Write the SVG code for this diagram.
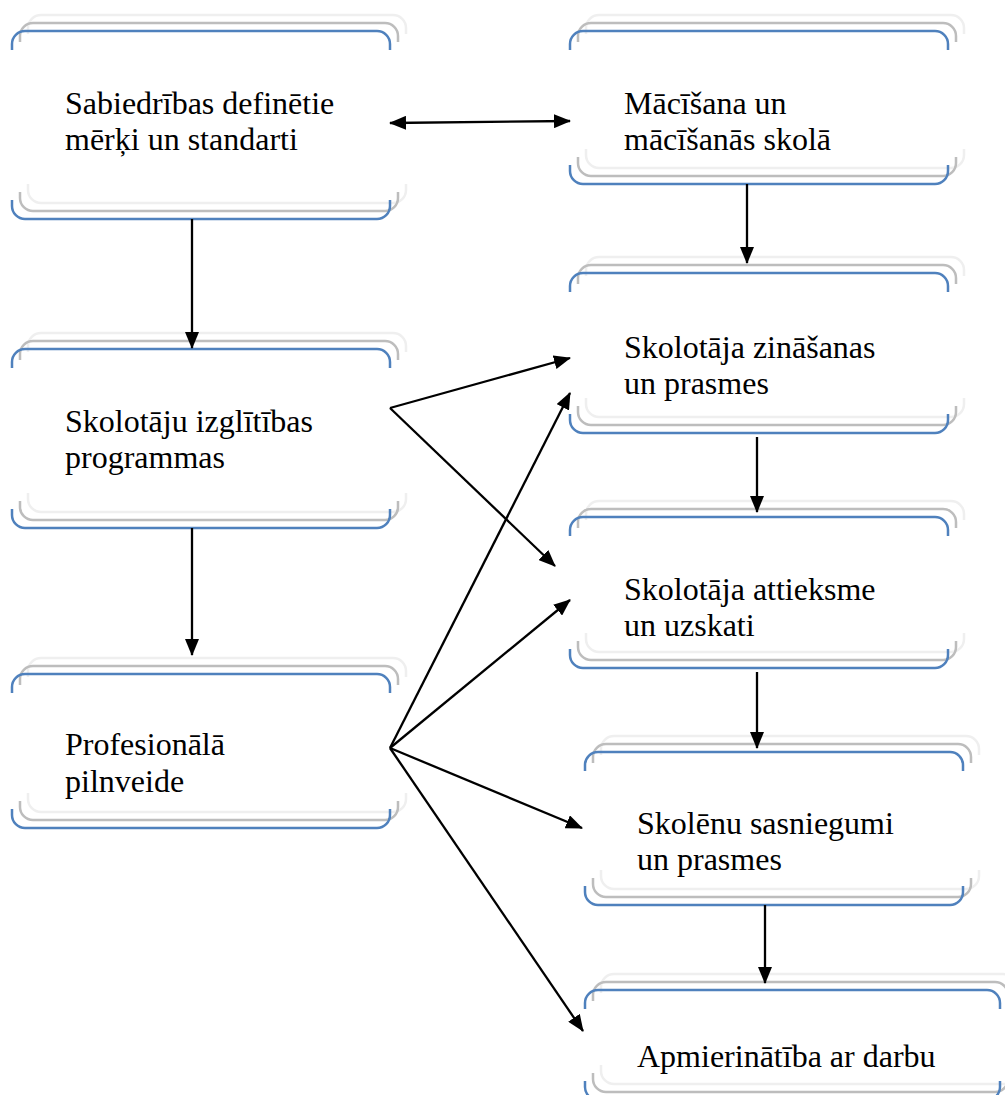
<svg xmlns="http://www.w3.org/2000/svg" xmlns:xlink="http://www.w3.org/1999/xlink" width="1005" height="1095" viewBox="0 0 1005 1095">
<style>
  .l1 { stroke: #4f81bd; }
  .l2 { stroke: #bdbdbd; }
  .l3 { stroke: #efefef; }
  .br { fill: none; stroke-width: 2.5; }
  text { font-family: "Liberation Serif", "Times New Roman", serif; font-size: 32px; fill: #000; }
  .conn line { stroke: #000; stroke-width: 2.3; }
</style>
<defs>
  <marker id="ah" viewBox="0 0 17 14" refX="16" refY="7" markerWidth="17" markerHeight="14" markerUnits="userSpaceOnUse" orient="auto-start-reverse">
    <path d="M0,0 L17,7 L0,14 z" fill="#000"/>
  </marker>
  <path id="t378" d="M0,19 V13 A13,13 0 0 1 13,0 H365 A13,13 0 0 1 378,13 V19"/>
  <path id="b378" d="M0,-19 V-13 A13,13 0 0 0 13,0 H365 A13,13 0 0 0 378,-13 V-19"/>
  <path id="t415" d="M0,19 V13 A13,13 0 0 1 13,0 H402 A13,13 0 0 1 415,13 V19"/>
  <path id="b415" d="M0,-19 V-13 A13,13 0 0 0 13,0 H402 A13,13 0 0 0 415,-13 V-19"/>
  <g id="top" class="br">
    <use xlink:href="#t378" class="l3" x="16" y="-16"/>
    <use xlink:href="#t378" class="l2" x="8" y="-8"/>
    <use xlink:href="#t378" class="l1"/>
  </g>
  <g id="bot" class="br">
    <use xlink:href="#b378" class="l3" x="16" y="-16"/>
    <use xlink:href="#b378" class="l2" x="8" y="-8"/>
    <use xlink:href="#b378" class="l1"/>
  </g>
  <g id="topW" class="br">
    <use xlink:href="#t415" class="l3" x="16" y="-16"/>
    <use xlink:href="#t415" class="l2" x="8" y="-8"/>
    <use xlink:href="#t415" class="l1"/>
  </g>
  <g id="botW" class="br">
    <use xlink:href="#b415" class="l3" x="16" y="-16"/>
    <use xlink:href="#b415" class="l2" x="8" y="-8"/>
    <use xlink:href="#b415" class="l1"/>
  </g>
</defs>
<rect width="1005" height="1095" fill="#fff"/>

<g id="node-sabiedribas">
  <use xlink:href="#top" x="12" y="31"/>
  <use xlink:href="#bot" x="12" y="219"/>
  <text x="65" y="114">Sabiedrības definētie</text>
  <text x="65" y="150">mērķi un standarti</text>
</g>
<g id="node-izglitibas">
  <use xlink:href="#top" x="12" y="349"/>
  <use xlink:href="#bot" x="12" y="528"/>
  <text x="65" y="432">Skolotāju izglītības</text>
  <text x="65" y="468">programmas</text>
</g>
<g id="node-pilnveide">
  <use xlink:href="#top" x="12" y="674"/>
  <use xlink:href="#bot" x="12" y="828"/>
  <text x="65" y="755">Profesionālā</text>
  <text x="65" y="792">pilnveide</text>
</g>
<g id="node-macisana">
  <use xlink:href="#top" x="570" y="31"/>
  <use xlink:href="#bot" x="570" y="184"/>
  <text x="624" y="114">Mācīšana un</text>
  <text x="624" y="150">mācīšanās skolā</text>
</g>
<g id="node-zinasanas">
  <use xlink:href="#top" x="570" y="273"/>
  <use xlink:href="#bot" x="570" y="433"/>
  <text x="624" y="358">Skolotāja zināšanas</text>
  <text x="624" y="394">un prasmes</text>
</g>
<g id="node-attieksme">
  <use xlink:href="#top" x="570" y="517"/>
  <use xlink:href="#bot" x="570" y="668"/>
  <text x="624" y="600">Skolotāja attieksme</text>
  <text x="624" y="636">un uzskati</text>
</g>
<g id="node-skolenu">
  <use xlink:href="#top" x="585" y="752"/>
  <use xlink:href="#bot" x="585" y="905"/>
  <text x="637" y="834">Skolēnu sasniegumi</text>
  <text x="637" y="870">un prasmes</text>
</g>
<g id="node-apmierinatiba">
  <use xlink:href="#topW" x="585" y="990"/>
  <use xlink:href="#botW" x="585" y="1100"/>
  <text x="637" y="1067">Apmierinātība ar darbu</text>
</g>

<g id="connectors" class="conn">
  <line x1="390" y1="123" x2="570" y2="121" marker-start="url(#ah)" marker-end="url(#ah)"/>
  <line x1="192" y1="219" x2="192" y2="348" marker-end="url(#ah)"/>
  <line x1="192" y1="528" x2="192" y2="655" marker-end="url(#ah)"/>
  <line x1="747" y1="184" x2="747" y2="263" marker-end="url(#ah)"/>
  <line x1="757" y1="437" x2="757" y2="512" marker-end="url(#ah)"/>
  <line x1="757" y1="672" x2="757" y2="748" marker-end="url(#ah)"/>
  <line x1="765" y1="905" x2="765" y2="983" marker-end="url(#ah)"/>
  <line x1="390" y1="408" x2="570" y2="358" marker-end="url(#ah)"/>
  <line x1="390" y1="408" x2="555" y2="566" marker-end="url(#ah)"/>
  <line x1="390" y1="748" x2="570" y2="393" marker-end="url(#ah)"/>
  <line x1="390" y1="748" x2="570" y2="600" marker-end="url(#ah)"/>
  <line x1="390" y1="748" x2="582" y2="828" marker-end="url(#ah)"/>
  <line x1="390" y1="748" x2="583" y2="1031" marker-end="url(#ah)"/>
</g>
</svg>
